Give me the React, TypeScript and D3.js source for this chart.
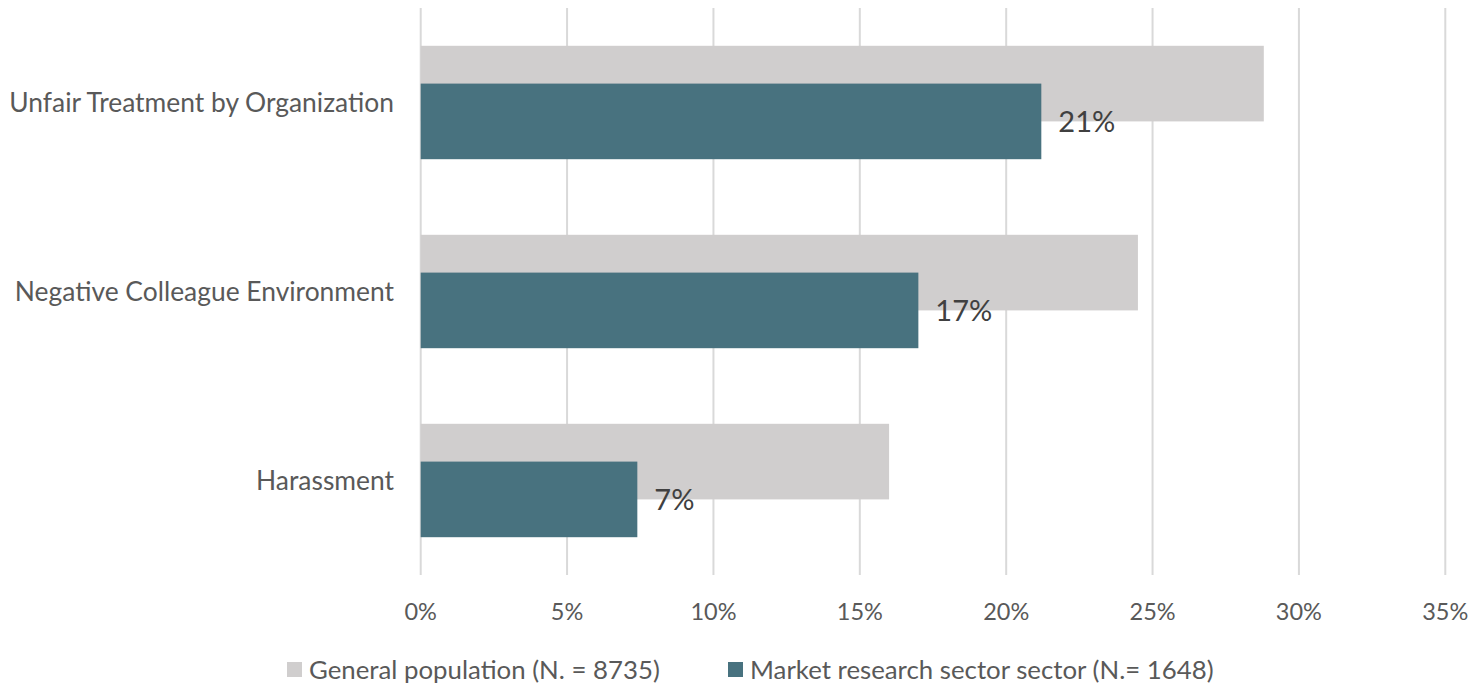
import React from "react";
import * as d3 from "d3";

const categories = ["Unfair Treatment by Organization", "Negative Colleague Environment", "Harassment"];
const generalPopulation = [0.288, 0.245, 0.16];
const marketResearch = [0.212, 0.17, 0.074];
const xTicks = [0, 0.05, 0.1, 0.15, 0.2, 0.25, 0.3, 0.35];
const seriesNames = ["General population (N. = 8735)", "Market research sector sector (N.= 1648)"];
const seriesColors = ["#D0CECE", "#48727F"];

const FONT = "Lato, 'Open Sans', sans-serif";

export default function App() {
  const W = 1472, H = 684;
  const x = d3.scaleLinear().domain([0, 0.35]).range([420.7, 1445.3]);
  const y = d3.scaleBand<string>().domain(categories).range([8, 575]).paddingInner(0).paddingOuter(0);
  const bw = y.bandwidth() / 2.5;
  const groupOffset = (y.bandwidth() - bw * 1.5) / 2;
  const fmt = d3.format(".0%");
  const legendX = [287, 728];

  return (
    <svg width={W} height={H} style={{ position: "absolute", left: 0, top: 0, background: "#fff" }} fontFamily={FONT}>
      {xTicks.map((t) => (
        <line key={"g" + t} x1={x(t)} x2={x(t)} y1={8} y2={575} stroke="#D9D9D9" strokeWidth={2} />
      ))}
      {categories.map((c, i) => {
        const y0 = (y(c) as number) + groupOffset;
        return (
          <g key={c}>
            <rect x={x(0)} y={y0} width={x(generalPopulation[i]) - x(0)} height={bw} fill={seriesColors[0]} />
            <rect x={x(0)} y={y0 + bw * 0.5} width={x(marketResearch[i]) - x(0)} height={bw} fill={seriesColors[1]} />
            <text x={x(marketResearch[i]) + 17} y={y0 + bw} dy="0.36em" fontSize={29} fill="#404040">
              {fmt(Math.round(marketResearch[i] * 100) / 100)}
            </text>
            <text x={394} y={(y(c) as number) + y.bandwidth() / 2} dy="0.36em" textAnchor="end" fontSize={26.4} fill="#595959">
              {c}
            </text>
          </g>
        );
      })}
      {xTicks.map((t) => (
        <text key={"t" + t} x={x(t)} y={612} dy="0.36em" textAnchor="middle" fontSize={23.5} fill="#595959">
          {fmt(t)}
        </text>
      ))}
      {seriesNames.map((s, i) => (
        <g key={s}>
          <rect x={legendX[i]} y={662} width={15} height={15} fill={seriesColors[i]} />
          <text x={legendX[i] + 22} y={669.5} dy="0.36em" fontSize={25.8} fill="#595959">
            {s}
          </text>
        </g>
      ))}
    </svg>
  );
}
